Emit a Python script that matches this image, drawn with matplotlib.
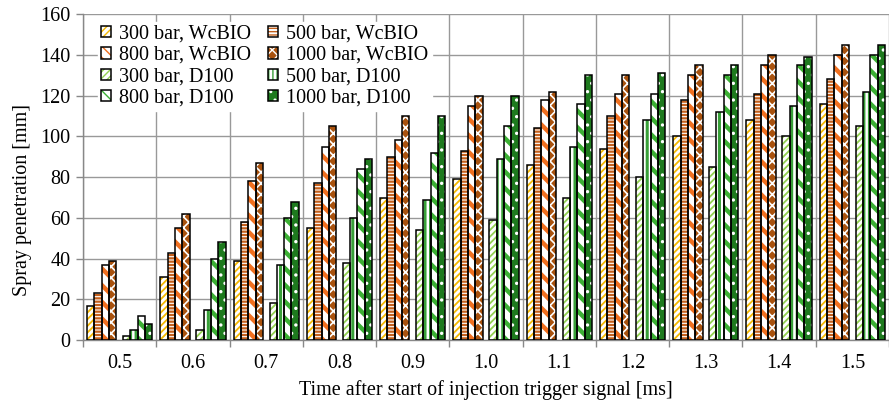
import numpy as np
import matplotlib
matplotlib.use("Agg")
import matplotlib.pyplot as plt
from matplotlib.patches import Patch

plt.rcParams["font.family"] = ["Liberation Serif", "DejaVu Serif"]
FS = 14.5

times = ["0.5", "0.6", "0.7", "0.8", "0.9", "1.0", "1.1", "1.2", "1.3", "1.4", "1.5"]

# spray penetration [mm], WcBIO fuel
wc300 = [17, 31, 39, 55, 70, 79, 86, 94, 100, 108, 116]
wc500 = [23, 43, 58, 77, 90, 93, 104, 110, 118, 121, 128]
wc800 = [37, 55, 78, 95, 98, 115, 118, 121, 130, 135, 140]
wc1000 = [39, 62, 87, 105, 110, 120, 122, 130, 135, 140, 145]
# spray penetration [mm], D100 fuel
d300 = [2, 5, 18, 38, 54, 59, 70, 80, 85, 100, 105]
d500 = [5, 15, 37, 60, 69, 89, 95, 108, 112, 115, 122]
d800 = [12, 40, 60, 84, 92, 105, 116, 121, 130, 135, 140]
d1000 = [8, 48, 68, 89, 110, 120, 130, 131, 135, 139, 145]

# (label, values, face, hatch colour, hatch, legend hatch, hatch width, offset)
series = [
    ("300 bar, WcBIO", wc300, "white", "#F5B800", "/////", "/////", 1.3, -0.395),
    ("500 bar, WcBIO", wc500, "white", "#C4601C", "-----", "-----", 1.6, -0.295),
    ("800 bar, WcBIO", wc800, "white", "#F07020", "\\\\", "\\\\\\", 3.2, -0.195),
    ("1000 bar, WcBIO", wc1000, "#A9520E", "white", "xxx", "xxx", 1.2, -0.095),
    ("300 bar, D100", d300, "white", "#92D050", "/////", "/////", 1.3, 0.095),
    ("500 bar, D100", d500, "white", "#38A038", "|||", "||||", 2.2, 0.195),
    ("800 bar, D100", d800, "white", "#3CB034", "\\\\", "\\\\\\", 3.2, 0.295),
    ("1000 bar, D100", d1000, "#1E7A1E", "white", "..", "..", 1.2, 0.395),
]

x = np.arange(len(times))
w = 0.1

fig = plt.figure(figsize=(8.89, 4.04), dpi=100)
ax = fig.add_axes([0.0934, 0.158, 0.9066, 0.807])

handles = {}
for lab, vals, fc, hc, hatch, lhatch, hlw, off in series:
    bars = ax.bar(x + off, vals, w, color=fc, edgecolor=hc, hatch=hatch, linewidth=0, zorder=2)
    for b in bars:
        b.set_hatch_linewidth(hlw)
    ax.bar(x + off, vals, w, fill=False, edgecolor="black", linewidth=1.1, zorder=3)
    hp = Patch(facecolor=fc, edgecolor=hc, hatch=lhatch, linewidth=0)
    hp.set_hatch_linewidth(hlw)
    handles[lab] = (hp, Patch(fill=False, edgecolor="black", linewidth=1.1))

ax.set_xlim(-0.5, 10.48)
ax.set_ylim(0, 160)
ax.set_yticks(range(0, 161, 20))
ax.set_xticks(np.arange(-0.5, 11, 1))
ax.set_xticklabels([])
ax.set_xticks(x, minor=True)
ax.set_xticklabels(times, minor=True)
ax.tick_params(axis="x", which="minor", length=0, pad=10, labelsize=FS)
ax.tick_params(axis="x", which="major", length=5, color="#888888", width=1)
ax.tick_params(axis="y", length=5, color="#888888", width=1, labelsize=FS, pad=4)
ax.grid(True, which="major", color="#999999", linewidth=1, zorder=0)
ax.set_axisbelow(True)
for s in ("top", "right"):
    ax.spines[s].set_visible(False)
for s in ("left", "bottom"):
    ax.spines[s].set_color("#888888")
    ax.spines[s].set_linewidth(1)

ax.set_ylabel("Spray penetration [mm]", fontsize=FS)
ax.yaxis.set_label_coords(-0.063, 0.43)
ax.set_xlabel("Time after start of injection trigger signal [ms]", fontsize=FS, labelpad=5)

order = ["300 bar, WcBIO", "800 bar, WcBIO", "300 bar, D100", "800 bar, D100",
         "500 bar, WcBIO", "1000 bar, WcBIO", "500 bar, D100", "1000 bar, D100"]
leg = ax.legend([handles[k] for k in order], order, ncol=2, loc="upper left",
                bbox_to_anchor=(0.006, 1.008), fontsize=FS, frameon=True,
                facecolor="white", edgecolor="white", framealpha=1, fancybox=False,
                handlelength=0.5, handleheight=0.5, handletextpad=0.4,
                labelspacing=0.12, columnspacing=0.85, borderpad=0.15)
leg.set_zorder(5)

fig.savefig("out.png", dpi=100)
